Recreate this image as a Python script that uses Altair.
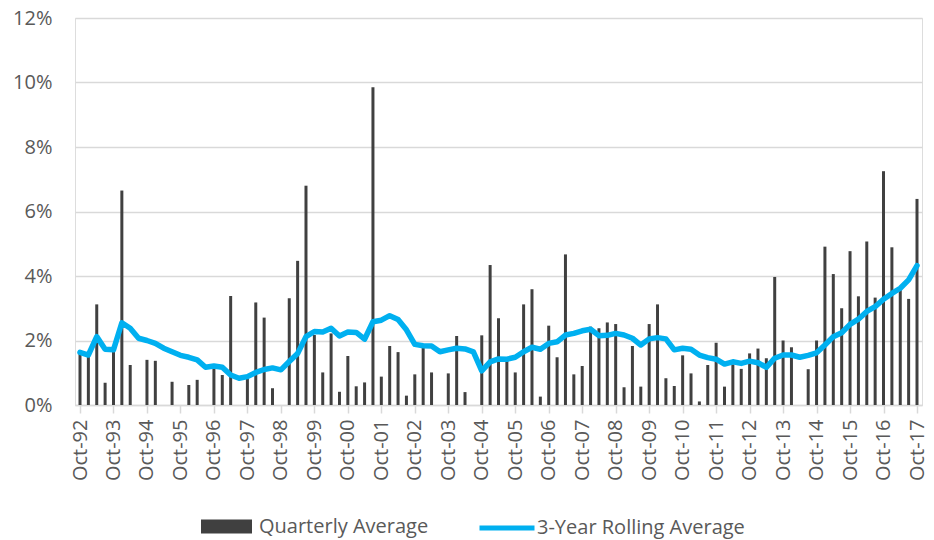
import altair as alt
import pandas as pd

# Quarterly observations, Oct-92 through Oct-17 (101 quarters), in percent
quarterly_avg = [
    1.60, 1.50, 3.12, 0.69, 1.70, 6.65, 1.24, 0.00, 1.40, 1.37,
    0.00, 0.72, 0.00, 0.62, 0.78, 0.00, 1.14, 0.93, 3.38, 0.00,
    0.83, 3.18, 2.71, 0.52, 0.00, 3.31, 4.47, 6.80, 2.17, 1.01,
    2.22, 0.41, 1.52, 0.58, 0.70, 9.85, 0.88, 1.83, 1.64, 0.29,
    0.95, 1.79, 1.01, 0.00, 0.98, 2.14, 0.40, 0.00, 2.16, 4.34,
    2.69, 1.40, 1.01, 3.12, 3.59, 0.26, 2.46, 1.48, 4.67, 0.95,
    1.21, 2.43, 2.38, 2.56, 2.51, 0.55, 1.83, 0.57, 2.51, 3.12,
    0.83, 0.59, 1.54, 0.98, 0.11, 1.24, 1.93, 0.57, 1.26, 1.12,
    1.60, 1.75, 1.45, 3.97, 2.00, 1.79, 0.00, 1.11, 2.00, 4.91,
    4.06, 3.00, 4.77, 3.37, 5.07, 3.33, 7.25, 4.89, 3.60, 3.29,
    6.39,
]

rolling_avg = [
    1.63, 1.55, 2.12, 1.73, 1.71, 2.55, 2.38, 2.07, 2.00, 1.91,
    1.76, 1.65, 1.54, 1.48, 1.40, 1.17, 1.21, 1.17, 0.93, 0.83,
    0.88, 1.01, 1.10, 1.15, 1.09, 1.35, 1.60, 2.12, 2.28, 2.26,
    2.38, 2.14, 2.26, 2.25, 2.04, 2.58, 2.63, 2.77, 2.65, 2.33,
    1.88, 1.84, 1.83, 1.65, 1.71, 1.76, 1.74, 1.65, 1.06, 1.34,
    1.43, 1.42, 1.48, 1.65, 1.79, 1.73, 1.91, 1.96, 2.17, 2.22,
    2.30, 2.35, 2.15, 2.16, 2.22, 2.17, 2.07, 1.86, 2.05, 2.09,
    2.05, 1.71, 1.76, 1.73, 1.55, 1.47, 1.42, 1.27, 1.34, 1.29,
    1.36, 1.31, 1.17, 1.45, 1.55, 1.55, 1.48, 1.54, 1.62, 1.86,
    2.12, 2.24, 2.50, 2.66, 2.90, 3.05, 3.28, 3.46, 3.62, 3.88,
    4.32,
]

year_labels = [f"Oct-{(92 + i) % 100:02d}" for i in range(26)]

series_names = ["Quarterly Average", "3-Year Rolling Average"]
bar_color = "#404040"
line_color = "#00B0F0"
text_color = "#595959"
grid_color = "#d9d9d9"

df = pd.DataFrame({
    "q": list(range(len(quarterly_avg))),
    "quarterly": quarterly_avg,
    "rolling": rolling_avg,
})
df["bar_series"] = series_names[0]
df["line_series"] = series_names[1]

label_js = "[" + ",".join(f"'{s}'" for s in year_labels) + "]"

x_enc = alt.X(
    "q:Q",
    scale=alt.Scale(domain=[0, 100], nice=False, zero=False),
    axis=alt.Axis(
        title=None,
        values=list(range(0, 101, 4)),
        labelExpr=f"{label_js}[round(datum.value / 4)]",
        labelAngle=270,
        labelAlign="right",
        labelBaseline="middle",
        labelPadding=6,
        labelFontSize=20,
        labelColor=text_color,
        labelFont="Open Sans",
        labelOverlap=False,
        labelFlush=False,
        domainColor=grid_color,
        domainWidth=1.5,
        tickColor=grid_color,
        tickWidth=1.5,
        tickSize=8,
        grid=False,
    ),
)

y_scale = alt.Scale(domain=[0, 12], nice=False)
y_axis = alt.Axis(
    title=None,
    values=[0, 2, 4, 6, 8, 10, 12],
    labelExpr="datum.value + '%'",
    labelFontSize=20,
    labelColor=text_color,
    labelFont="Open Sans",
    labelPadding=23,
    domain=False,
    ticks=False,
    gridColor=grid_color,
    gridWidth=1.5,
)

legend_common = dict(
    title=None,
    orient="none",
    labelFontSize=20,
    labelFont="Open Sans",
    labelColor=text_color,
    labelLimit=400,
    padding=0,
)

bars = alt.Chart(df).mark_bar(size=3).encode(
    x=x_enc,
    y=alt.Y("quarterly:Q", scale=y_scale, axis=y_axis),
    color=alt.Color(
        "bar_series:N",
        scale=alt.Scale(domain=[series_names[0]], range=[bar_color]),
        legend=alt.Legend(
            legendX=126,
            legendY=483,
            symbolType="M-1,-0.27H1V0.27H-1Z",
            symbolSize=2601,
            symbolStrokeWidth=0,
            symbolOpacity=1,
            labelOffset=7,
            **legend_common,
        ),
    ),
)

line = alt.Chart(df).mark_line(strokeWidth=5.5, strokeJoin="round", strokeCap="round").encode(
    x=x_enc,
    y=alt.Y("rolling:Q", scale=y_scale, axis=y_axis),
    stroke=alt.Stroke(
        "line_series:N",
        scale=alt.Scale(domain=[series_names[1]], range=[line_color]),
        legend=alt.Legend(
            legendX=402,
            legendY=480,
            symbolType="stroke",
            symbolSize=3025,
            symbolStrokeWidth=5,
            labelOffset=0,
            **legend_common,
        ),
    ),
)

chart = (
    alt.layer(bars, line)
    .resolve_scale(color="independent", stroke="independent")
    .properties(
        width=847,
        height=387,
        autosize=alt.AutoSizeParams(type="none"),
        padding={"left": 75, "top": 18, "right": 12, "bottom": 135},
    )
    .configure_view(stroke=None)
    .configure(background="white")
)

chart.save("out.html", embed_options={"renderer": "svg", "actions": False})
